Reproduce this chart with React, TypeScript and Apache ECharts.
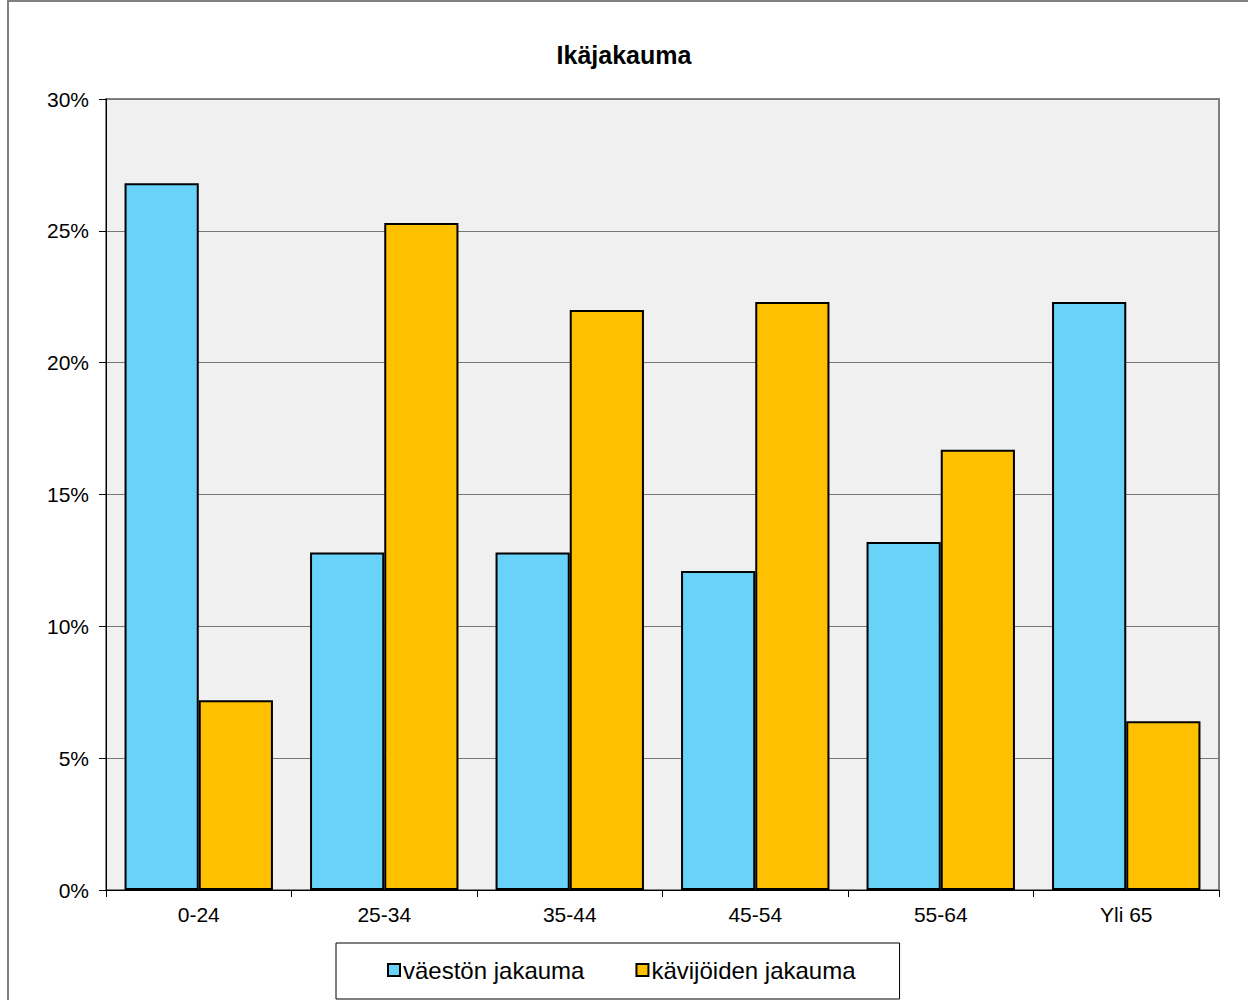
import React, { useEffect, useRef } from "react";
import * as echarts from "echarts";

const categories = ["0-24", "25-34", "35-44", "45-54", "55-64", "Yli 65"];
const populationShare = [0.268, 0.128, 0.128, 0.121, 0.132, 0.223];
const visitorShare = [0.072, 0.253, 0.220, 0.223, 0.167, 0.064];
const seriesNames = ["väestön jakauma", "kävijöiden jakauma"];
const titleText = "Ikäjakauma";

const FONT = "'Liberation Sans', Arial, Helvetica, sans-serif";

export default function App() {
  const ref = useRef<HTMLDivElement>(null);
  useEffect(() => {
    document.body.style.margin = "0";
    const chart = echarts.init(ref.current!, null, { renderer: "svg" });
    chart.setOption({
      animation: false,
      backgroundColor: "#ffffff",
      textStyle: { fontFamily: FONT, color: "#000" },
      title: {
        text: titleText,
        left: "center",
        top: 37,
        textStyle: { fontFamily: FONT, fontSize: 25, fontWeight: "bold", color: "#000" },
      },
      graphic: [
        {
          type: "rect",
          shape: { x: 8, y: 1, width: 1260, height: 1020 },
          style: { fill: "none", stroke: "#808080", lineWidth: 2 },
          silent: true,
        },
      ],
      grid: {
        left: 106,
        top: 99,
        width: 1113,
        height: 791,
        show: true,
        backgroundColor: "#f0f0f0",
        borderColor: "#808080",
        borderWidth: 2,
        containLabel: false,
      },
      legend: {
        left: 336,
        top: 943,
        padding: [15, 44, 17, 51],
        itemGap: 51,
        itemWidth: 12,
        itemHeight: 12,
        icon: "rect",
        borderColor: "#000",
        borderWidth: 1,
        data: seriesNames,
        textStyle: { fontFamily: FONT, fontSize: 24, color: "#000", padding: [0, 0, 0, -2] },
      },
      xAxis: {
        type: "category",
        data: categories,
        axisLine: { lineStyle: { color: "#000", width: 1 } },
        axisTick: { show: true, length: 7, alignWithLabel: false, lineStyle: { color: "#000" } },
        axisLabel: { fontFamily: FONT, fontSize: 21, color: "#000", margin: 14 },
      },
      yAxis: {
        type: "value",
        min: 0,
        max: 0.3,
        interval: 0.05,
        axisLine: { show: true, lineStyle: { color: "#000", width: 1 } },
        axisTick: { show: true, length: 7, lineStyle: { color: "#000" } },
        axisLabel: {
          fontFamily: FONT,
          fontSize: 21,
          color: "#000",
          margin: 17,
          formatter: (v: number) => Math.round(v * 100) + "%",
        },
        splitLine: { show: true, lineStyle: { color: "#777777", width: 1 } },
      },
      series: [
        {
          name: seriesNames[0],
          type: "bar",
          data: populationShare,
          barGap: "0%",
          barCategoryGap: "20%",
          itemStyle: { color: "#69D2F9", borderColor: "#000", borderWidth: 2 },
        },
        {
          name: seriesNames[1],
          type: "bar",
          data: visitorShare,
          barGap: "0%",
          barCategoryGap: "20%",
          itemStyle: { color: "#FFC000", borderColor: "#000", borderWidth: 2 },
        },
      ],
    });
    return () => chart.dispose();
  }, []);
  return <div ref={ref} style={{ width: 1248, height: 1000 }} />;
}
